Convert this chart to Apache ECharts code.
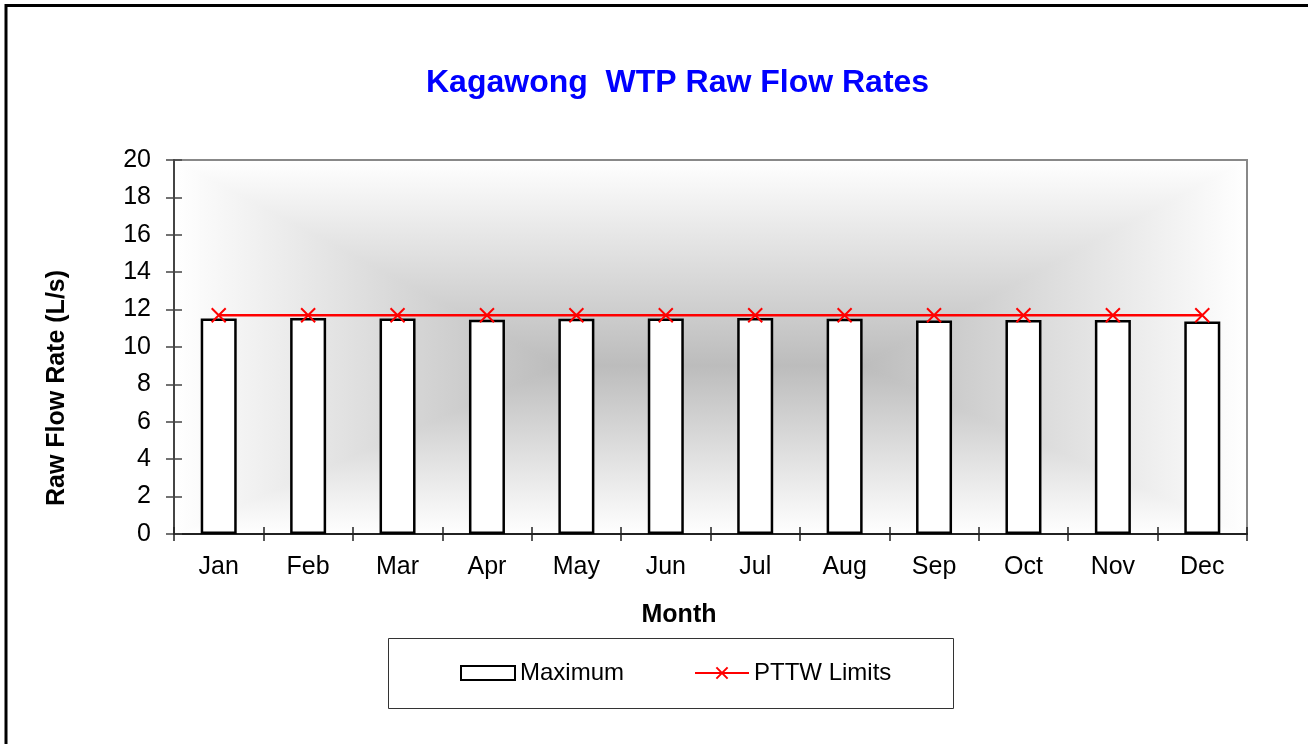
<!DOCTYPE html>
<html>
<head>
<meta charset="utf-8">
<script src="https://cdn.jsdelivr.net/npm/echarts@6/dist/echarts.min.js"></script>
<style>html,body{margin:0;padding:0;background:#fff}#c{width:1308px;height:744px}</style>
</head>
<body>
<div id="c"></div>
<script>
var months = ['Jan','Feb','Mar','Apr','May','Jun','Jul','Aug','Sep','Oct','Nov','Dec'];
var maximum = [11.53,11.55,11.53,11.46,11.51,11.53,11.55,11.51,11.42,11.44,11.44,11.37];
var pttwLimits = [11.7,11.7,11.7,11.7,11.7,11.7,11.7,11.7,11.7,11.7,11.7,11.7];
var yMin = 0, yMax = 20, yStep = 2;

var FONT = '"Liberation Sans", Arial, sans-serif';
var chart = echarts.init(document.getElementById('c'), null, {renderer: 'canvas'});
var G = {left: 174, top: 160, right: 61, bottom: 210};
var gw = 1308 - G.left - G.right, gh = 744 - G.top - G.bottom;

// rectangular "from centre" background shading of the plot area
var EDGE = '#ffffff', CENTER = '#bcbcbc';
var x0 = G.left, y0 = G.top, x1 = G.left + gw, y1 = G.top + gh;
var cxa = x0 + gw * 0.36, cxb = x0 + gw * 0.64, cy = y0 + gh * 0.55;
function lin(dir, from, to) {
  var g = {type: 'linear', x: 0, y: 0, x2: 0, y2: 0, colorStops: [{offset: 0, color: from}, {offset: 1, color: to}]};
  if (dir === 'v') g.y2 = 1; else g.x2 = 1;
  return g;
}
function poly(pts, grad) {
  return {type: 'polygon', z: -10, silent: true, shape: {points: pts},
          style: {fill: grad, stroke: grad, lineWidth: 1}};
}
var bgShapes = [
  poly([[x0, y0], [x1, y0], [cxb, cy], [cxa, cy]], lin('v', EDGE, CENTER)),
  poly([[x0, y1], [x1, y1], [cxb, cy], [cxa, cy]], lin('v', CENTER, EDGE)),
  poly([[x0, y0], [cxa, cy], [x0, y1]], lin('h', EDGE, CENTER)),
  poly([[x1, y0], [cxb, cy], [x1, y1]], lin('h', CENTER, EDGE))
];

chart.setOption({
  animation: false,
  backgroundColor: '#ffffff',
  title: {
    text: 'Kagawong  WTP Raw Flow Rates',
    left: 421, top: 62,
    textStyle: {color: '#0000ff', fontFamily: FONT, fontWeight: 'bold', fontSize: 32}
  },
  graphic: bgShapes.concat([
    {type: 'rect', z: 100, silent: true, shape: {x: 6, y: 5.5, width: 1400, height: 900},
     style: {fill: 'none', stroke: '#000', lineWidth: 3}},
    {type: 'rect', z: -5, silent: true, shape: {x: 388.5, y: 638.5, width: 565, height: 70},
     style: {fill: '#fff', stroke: '#333', lineWidth: 1}},
    {type: 'text', x: 57, y: 388, rotation: Math.PI / 2,
     style: {text: 'Raw Flow Rate (L/s)', fill: '#000', font: 'bold 25px ' + FONT, align: 'center', verticalAlign: 'middle'}},
    {type: 'text', x: 679, y: 615,
     style: {text: 'Month', fill: '#000', font: 'bold 25px ' + FONT, align: 'center', verticalAlign: 'middle'}}
  ]),
  legend: {
    left: 460, top: 661, padding: 0, itemGap: 70, itemWidth: 54, itemHeight: 14,
    textStyle: {fontFamily: FONT, fontSize: 24, color: '#000'},
    data: [{name: 'Maximum', icon: 'rect'}, {name: 'PTTW Limits'}]
  },
  grid: {left: G.left, top: G.top, right: G.right, bottom: G.bottom, show: true,
         backgroundColor: 'transparent', borderColor: '#888', borderWidth: 2},
  xAxis: [
    {type: 'category', data: months, boundaryGap: true,
     axisLine: {lineStyle: {color: '#222', width: 2}},
     axisTick: {show: true, inside: false, length: 7, lineStyle: {color: '#222', width: 1.5}},
     axisLabel: {fontFamily: FONT, fontSize: 25, color: '#000', margin: 21},
     splitLine: {show: false}},
    {type: 'category', data: months, boundaryGap: true, position: 'bottom',
     axisLine: {show: false},
     axisTick: {show: true, inside: true, length: 7, lineStyle: {color: '#222', width: 1.5}},
     axisLabel: {show: false}, splitLine: {show: false}}
  ],
  yAxis: [
    {type: 'value', min: yMin, max: yMax, interval: yStep,
     axisLine: {show: true, lineStyle: {color: '#444', width: 2}},
     axisTick: {show: true, inside: false, length: 8, lineStyle: {color: '#444', width: 1.5}},
     axisLabel: {fontFamily: FONT, fontSize: 25, color: '#000', margin: 23},
     splitLine: {show: false}},
    {type: 'value', min: yMin, max: yMax, interval: yStep, position: 'left',
     axisLine: {show: false},
     axisTick: {show: true, inside: true, length: 8, lineStyle: {color: '#444', width: 1.5}},
     axisLabel: {show: false}, splitLine: {show: false}}
  ],
  series: [
    {name: 'Maximum', type: 'bar', data: maximum, barWidth: 36, xAxisIndex: 0, yAxisIndex: 0,
     itemStyle: {color: '#ffffff', borderColor: '#000', borderWidth: 2.5}},
    {name: 'PTTW Limits', type: 'line', data: pttwLimits, xAxisIndex: 0, yAxisIndex: 0,
     symbol: 'path://M0,0L10,10M10,0L0,10', symbolSize: 14, z: 5,
     lineStyle: {color: '#ff0000', width: 2.5},
     itemStyle: {color: '#ff0000', borderColor: '#ff0000', borderWidth: 2}}
  ]
});
</script>
</body>
</html>
